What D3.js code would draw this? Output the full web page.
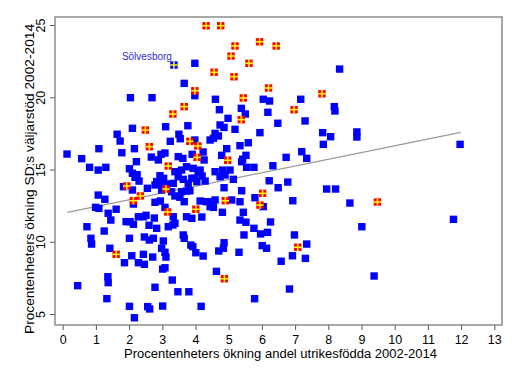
<!DOCTYPE html>
<html><head><meta charset="utf-8">
<script src="https://cdn.jsdelivr.net/npm/d3@7"></script>
<style>body{margin:0;background:#fff}svg{display:block;font-family:"Liberation Sans",Arial,sans-serif}</style>
</head><body><svg id="c" width="520" height="381"></svg>
<script>
const xTicks=[0,1,2,3,4,5,6,7,8,9,10,11,12,13];
const yTicks=[5,10,15,20,25];
const xTitle="Procentenheters ökning andel utrikesfödda 2002-2014";
const yTitle="Procentenheters ökning SD:s väljarstöd 2002-2014";
const highlightPoint=[3.35,22.23];
const highlightLabel="Sölvesborg";
const trendLine=[[0.14,12.04],[11.99,17.57]];
const bluePoints=[
[3.98,22.35],[3.66,20.96],[3.98,20.11],[2.04,19.97],[2.69,19.97],[8.34,21.95],
[4.60,19.86],[6.04,19.86],[6.23,19.74],[7.17,19.86],[4.72,19.14],[5.38,19.23],[5.50,18.84],[6.18,18.96],[8.18,19.35],[8.20,19.05],
[4.98,18.54],[6.48,18.20],[7.30,18.36],[4.74,18.08],[4.86,17.91],[5.19,17.78],
[4.59,17.50],[4.69,17.32],[4.54,17.16],[4.44,17.04],[5.94,17.55],[7.83,17.55],[8.07,17.27],[7.85,16.74],
[5.59,16.85],[5.34,16.65],[4.94,16.44],[4.23,16.21],[4.26,15.66],[4.79,15.98],[5.52,15.98],[5.42,15.71],[5.39,15.54],
[5.54,15.15],[5.76,15.15],[6.33,15.26],[6.73,15.84],[7.20,16.23],[7.35,15.77],
[4.59,14.85],[4.82,14.96],[5.04,14.96],[4.14,14.96],[4.20,14.55],[4.29,14.20],[4.74,14.50],[4.89,14.62],[5.14,14.32],
[6.22,14.22],[6.78,14.13],[6.49,13.74],[4.86,13.74],[5.39,13.53],[5.79,13.05],
[4.14,12.82],[4.32,12.77],[4.49,12.77],[4.59,12.89],[4.44,12.43],[4.54,12.38],[5.09,12.89],[5.34,12.77],[6.04,12.43],[6.93,12.84],
[7.95,13.65],[8.22,13.65],[8.65,12.68],[4.81,12.04],[5.44,12.04],[5.34,11.50],[5.52,11.35],[4.19,11.71],[6.26,11.37],[5.76,10.93],
[8.86,17.60],[8.86,17.25],[11.97,16.74],[11.77,11.55],[9.01,11.04],[9.38,7.63],
[0.73,11.04],[1.25,10.74],[0.85,10.24],[0.87,9.84],[1.42,9.55],[2.01,10.24],[2.46,10.33],[2.73,10.24],[2.61,10.12],[3.03,10.05],
[2.08,9.03],[1.86,8.55],[2.28,8.55],[2.46,8.44],[2.43,9.13],[2.71,8.94],[2.98,9.55],[3.08,9.27],[3.11,8.94],
[3.32,11.16],[3.63,10.47],[3.66,10.24],[3.86,9.77],[3.92,9.66],[4.01,9.24],[4.23,9.01],
[2.83,10.93],[1.36,7.58],[1.37,7.17],[0.45,6.96],[2.78,6.85],[3.30,7.35],[3.01,8.11],[3.08,8.20],[3.47,6.54],[3.80,6.54],
[1.33,6.06],[2.01,5.53],[2.56,5.51],[2.62,5.35],[3.01,5.55],[4.17,5.53],[2.16,4.74],
[5.46,10.47],[5.96,10.54],[6.17,10.65],[6.98,10.47],[4.86,9.93],[4.84,9.55],[4.70,9.36],[5.31,9.27],[6.01,9.73],[6.14,9.55],
[7.35,9.84],[6.92,9.03],[7.31,8.85],[6.58,8.65],[4.63,7.95],[6.83,6.73],[5.78,6.06],
[2.10,17.85],[3.10,17.96],[3.77,18.03],[1.64,17.44],[1.73,16.97],[3.50,17.44],[3.54,17.13],[3.24,16.95],[3.98,17.04],
[1.09,16.44],[2.16,16.44],[1.78,16.16],[0.13,16.07],[0.57,15.75],[2.67,15.86],[2.96,16.05],[3.08,16.14],[2.88,15.66],
[3.48,15.89],[3.62,15.77],[3.90,16.05],[2.22,15.54],[0.81,15.15],[1.07,14.96],[1.30,15.15],[2.01,15.05],
[2.10,14.74],[2.24,14.64],[2.18,14.46],[2.30,14.20],[3.38,14.85],[3.58,14.96],[3.73,15.19],[3.93,15.08],[4.08,14.85],[3.98,14.39],
[2.93,14.57],[3.04,14.39],[2.83,14.16],[2.98,14.04],[2.78,13.93],[3.13,14.00],[3.33,14.04],
[3.48,14.50],[3.63,14.32],[3.78,14.04],[3.89,14.39],[4.04,14.16],
[1.83,13.81],[2.10,13.58],[2.55,13.70],[2.98,13.58],[3.28,13.46],[3.58,13.46],[3.73,13.51],[3.83,13.53],
[1.07,13.23],[1.27,12.94],[2.13,12.61],[0.99,12.38],[1.09,12.31],[1.61,12.25],[2.78,12.73],[2.94,12.82],
[3.38,13.17],[3.53,13.08],[3.66,12.77],[3.08,12.38],[3.33,11.73],[3.73,11.73],[3.89,11.62],
[1.37,11.97],[1.45,11.50],[1.91,11.39],[2.03,11.39],[2.13,11.21],[2.28,11.73],[2.43,11.73],[2.51,11.83],[2.76,11.64],[2.60,11.14],
[3.38,11.28],[3.18,11.04]
];
const redPoints=[
[4.32,24.95],[4.76,24.95],[5.19,23.55],[5.93,23.84],[6.43,23.55],[5.07,22.85],[5.61,22.35],[4.56,21.73],[5.16,21.42],
[6.20,20.64],[7.81,20.24],[5.44,19.95],[6.97,19.14],[5.38,18.45],[3.98,20.45],[3.66,19.35],[3.32,18.84],[2.49,17.73],
[3.83,16.95],[4.07,16.63],[2.61,16.58],[4.05,15.84],[3.18,15.24],[1.93,13.86],[3.11,13.65],[2.34,13.17],[2.13,12.84],
[3.16,12.06],[4.01,12.25],[4.97,15.64],[6.02,13.35],[4.90,12.84],[5.94,12.54],[9.48,12.75],[1.61,9.13],[7.08,9.62],[4.87,7.44]
];

const svg=d3.select("#c");
const frame={l:55,t:17,r:502,b:325};
const x=d3.scaleLinear().domain([0,13]).range([62.7,494.3]);
const y=d3.scaleLinear().domain([5,25]).range([314,25]);
const FONT="Liberation Sans, Arial, sans-serif";

// x axis
const xa=svg.append("g").attr("transform",`translate(0,${frame.b})`)
  .call(d3.axisBottom(x).tickValues(xTicks).tickSize(5).tickSizeOuter(0).tickPadding(5.5).tickFormat(d3.format("d")));
xa.select(".domain").remove();
xa.selectAll("line").attr("stroke","#555").attr("stroke-width",1);
xa.selectAll("text").attr("font-size",12.5).attr("fill","#000").attr("font-family",FONT);

// y axis
const ya=svg.append("g").attr("transform",`translate(${frame.l},0)`)
  .call(d3.axisLeft(y).tickValues(yTicks).tickSize(5).tickSizeOuter(0).tickFormat(d3.format("d")));
ya.select(".domain").remove();
ya.selectAll("line").attr("stroke","#555").attr("stroke-width",1);
ya.selectAll("text").attr("x",0).attr("dy",0).attr("text-anchor","middle")
  .attr("transform","translate(-10,0) rotate(-90)")
  .attr("font-size",12.5).attr("fill","#000").attr("font-family",FONT);

// frame
svg.append("rect").attr("x",frame.l).attr("y",frame.t).attr("width",frame.r-frame.l).attr("height",frame.b-frame.t)
  .attr("fill","none").attr("stroke","#7a7a7a").attr("stroke-width",1.3);

// titles
svg.append("text").attr("x",280.5).attr("y",357.7).attr("text-anchor","middle")
  .attr("font-size",12).attr("font-family",FONT)
  .attr("textLength",313).attr("lengthAdjust","spacingAndGlyphs").text(xTitle);
svg.append("text").attr("transform",`translate(33.5,179) rotate(-90)`).attr("text-anchor","middle")
  .attr("font-size",12).attr("font-family",FONT)
  .attr("textLength",310).attr("lengthAdjust","spacingAndGlyphs").text(yTitle);

// trend line
svg.append("line").attr("x1",x(trendLine[0][0])).attr("y1",y(trendLine[0][1]))
  .attr("x2",x(trendLine[1][0])).attr("y2",y(trendLine[1][1]))
  .attr("stroke","#9a9a9a").attr("stroke-width",1.3);

const s=7.4;
svg.append("g").selectAll("rect").data(bluePoints).join("rect")
  .attr("x",d=>x(d[0])-s/2).attr("y",d=>y(d[1])-s/2).attr("width",s).attr("height",s).attr("fill","#0000ff");

function flag(g,d,bg){
  const cx=x(d[0]),cy=y(d[1]);
  g.append("rect").attr("x",cx-s/2).attr("y",cy-s/2).attr("width",s).attr("height",s).attr("fill",bg);
  g.append("line").attr("x1",cx).attr("x2",cx).attr("y1",cy-s/2).attr("y2",cy+s/2).attr("stroke","#ffff00").attr("stroke-width",1.5);
  g.append("line").attr("x1",cx-s/2).attr("x2",cx+s/2).attr("y1",cy).attr("y2",cy).attr("stroke","#ffff00").attr("stroke-width",1.5);
}
const rg=svg.append("g");
redPoints.forEach(d=>flag(rg.append("g"),d,"#ff0000"));
flag(svg.append("g"),highlightPoint,"#0000ff");
svg.append("text").attr("x",x(highlightPoint[0])-2).attr("y",y(highlightPoint[1])-5)
  .attr("text-anchor","end").attr("font-size",10).attr("font-family",FONT).attr("fill","#2d2dd6").text(highlightLabel);
</script></body></html>
